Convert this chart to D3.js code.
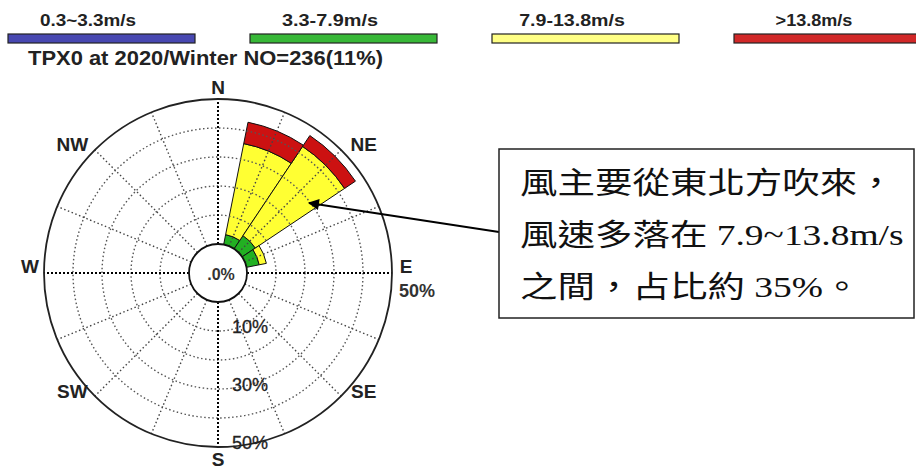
<!DOCTYPE html>
<html>
<head>
<meta charset="utf-8">
<script src="https://cdn.jsdelivr.net/npm/d3@7"></script>
<style>
  body { margin: 0; background: #fff; }
  text { font-family: "Liberation Sans", Arial, sans-serif; }
</style>
</head>
<body>
<svg width="916" height="474"></svg>
<script>
"use strict";
// data: percent of observations per direction and speed class
let directions = ["N", "NNE", "NE", "ENE", "E", "ESE", "SE", "SSE", "S", "SSW", "SW", "WSW", "W", "WNW", "NW", "NNW"];
let speedClasses = ["0.3~3.3m/s", "3.3-7.9m/s", "7.9-13.8m/s", ">13.8m/s"];
let classColors = ["#3434a8", "#22b022", "#ffff33", "#cc1111"];
let calmWind = [0, 0, 0, 0, 0, 0, 0, 0, 0, 0, 0, 0, 0, 0, 0, 0];
let moderateWind = [0, 3.5, 5.5, 4.5, 0, 0, 0, 0, 0, 0, 0, 0, 0, 0, 0, 0];
let strongWind = [0, 32, 37, 2.5, 0, 0, 0, 0, 0, 0, 0, 0, 0, 0, 0, 0];
let galeWind = [0, 7.5, 4.5, 0, 0, 0, 0, 0, 0, 0, 0, 0, 0, 0, 0, 0];
let ringTicks = [10, 20, 30, 40];
let ringLabels = [10, 30, 50];
let maxPct = 50;
let compass = ["N", "NE", "E", "SE", "S", "SW", "W", "NW"];
let title = "TPX0 at 2020/Winter NO=236(11%)";
let noteLines = ["風主要從東北方吹來，", "風速多落在 7.9~13.8m/s", "之間，占比約 35%。"];

let svg = d3.select("svg"),
    cx = 218,
    cy = 273;

let r = d3.scaleLinear().domain([0, maxPct]).range([29, 174]);
let ang = d3.scaleBand().domain(directions).range([0, 2 * Math.PI]);
let half = ang.bandwidth() / 2;
let angleOf = d => directions.indexOf(d) * ang.bandwidth();

// legend
let legendX = d3.scaleBand().domain(speedClasses).range([8, 976]);
let legend = svg.append("g").selectAll("g")
    .data(speedClasses)
    .join("g");
legend.append("rect")
    .attr("x", d => legendX(d))
    .attr("y", 34)
    .attr("width", 187)
    .attr("height", 9)
    .attr("fill", (d, i) => classColors[i])
    .attr("fill-opacity", (d, i) => i == 2 ? 0.6 : 0.9)
    .attr("stroke", "#222")
    .attr("stroke-width", 1.2);
legend.append("text")
    .attr("x", d => legendX(d) + 80)
    .attr("y", 26)
    .attr("text-anchor", "middle")
    .attr("font-size", 16)
    .attr("font-weight", "bold")
    .attr("fill", "#222")
    .attr("textLength", d => d.length * 9.6)
    .attr("lengthAdjust", "spacingAndGlyphs")
    .text(d => d);

svg.append("text")
    .attr("x", 28)
    .attr("y", 65)
    .attr("font-size", 20)
    .attr("font-weight", "bold")
    .attr("fill", "#222")
    .attr("textLength", 355)
    .attr("lengthAdjust", "spacingAndGlyphs")
    .text(title);

let g = svg.append("g").attr("transform", "translate(" + cx + "," + cy + ")");

// stacked wedges
let rows = directions.map((d, i) => ({
    dir: d, c0: calmWind[i], c1: moderateWind[i], c2: strongWind[i], c3: galeWind[i]
}));
let stack = d3.stack().keys(["c0", "c1", "c2", "c3"]);
let series = stack(rows);

let arc = d3.arc()
    .innerRadius(d => r(d[0]))
    .outerRadius(d => r(d[1]))
    .startAngle(d => angleOf(d.data.dir) - half)
    .endAngle(d => angleOf(d.data.dir) + half);

g.selectAll("g.layer")
    .data(series)
    .join("g")
    .attr("class", "layer")
    .attr("fill", (s, i) => classColors[i])
    .selectAll("path")
    .data(s => s.filter(d => d[1] - d[0] > 0))
    .join("path")
    .attr("d", arc)
    .attr("stroke", "#111")
    .attr("stroke-width", 1);

// grid rings
g.selectAll("circle.ring")
    .data(ringTicks)
    .join("circle")
    .attr("class", "ring")
    .attr("r", d => r(d))
    .attr("fill", "none")
    .attr("stroke", "#555")
    .attr("stroke-width", 1.4)
    .attr("stroke-dasharray", "1.5,2.5");

// spokes
g.selectAll("line.spoke")
    .data(directions)
    .join("line")
    .attr("class", "spoke")
    .attr("x1", d => r(0) * Math.sin(angleOf(d)))
    .attr("y1", d => -r(0) * Math.cos(angleOf(d)))
    .attr("x2", d => r(maxPct) * Math.sin(angleOf(d)))
    .attr("y2", d => -r(maxPct) * Math.cos(angleOf(d)))
    .attr("stroke", (d, i) => i % 4 == 0 ? "#000" : "#444")
    .attr("stroke-width", (d, i) => i % 4 == 0 ? 2 : 1.4)
    .attr("stroke-dasharray", (d, i) => i % 4 == 0 ? "2,2" : "1.5,2.5");

// outer circle
g.append("circle")
    .attr("r", r(maxPct))
    .attr("fill", "none")
    .attr("stroke", "#222")
    .attr("stroke-width", 1.8);

// centre circle
g.append("circle")
    .attr("r", r(0))
    .attr("fill", "#fff")
    .attr("stroke", "#111")
    .attr("stroke-width", 1.8);
g.append("text")
    .attr("x", 3)
    .attr("y", 1)
    .attr("text-anchor", "middle")
    .attr("dominant-baseline", "central")
    .attr("font-size", 16)
    .attr("font-weight", "bold")
    .attr("fill", "#333")
    .text(".0%");

// ring labels
g.selectAll("text.ringlab")
    .data(ringLabels)
    .join("text")
    .attr("class", "ringlab")
    .attr("x", 14)
    .attr("y", d => r(d) - 4)
    .attr("dominant-baseline", "central")
    .attr("font-size", 18)
    .attr("fill", "#222")
    .attr("stroke", "#222")
    .attr("stroke-width", 0.3)
    .text(d => d + "%");

// compass labels
g.selectAll("text.dir")
    .data(compass)
    .join("text")
    .attr("class", "dir")
    .attr("x", (d, i) => (i % 2 ? 206 : 188) * Math.sin(angleOf(d)))
    .attr("y", (d, i) => -(i % 2 ? 174 : 186) * Math.cos(angleOf(d)) - (i % 2 ? 5 : (i % 4 == 2 ? 7 : 0)))
    .attr("text-anchor", "middle")
    .attr("dominant-baseline", "central")
    .attr("font-size", 19)
    .attr("font-weight", "bold")
    .attr("fill", "#222")
    .text(d => d);
g.append("text")
    .attr("x", 199)
    .attr("y", 18)
    .attr("text-anchor", "middle")
    .attr("dominant-baseline", "central")
    .attr("font-size", 18)
    .attr("font-weight", "bold")
    .attr("fill", "#333")
    .text(maxPct + "%");

// annotation
svg.append("defs").append("marker")
    .attr("id", "arrow")
    .attr("viewBox", "0 0 10 10")
    .attr("refX", 9)
    .attr("refY", 5)
    .attr("markerWidth", 12)
    .attr("markerHeight", 11)
    .attr("markerUnits", "userSpaceOnUse")
    .attr("orient", "auto")
    .append("path")
    .attr("d", "M0,0 L10,5 L0,10 z")
    .attr("fill", "#000");

svg.append("line")
    .attr("x1", 499).attr("y1", 232)
    .attr("x2", 309).attr("y2", 203)
    .attr("stroke", "#000")
    .attr("stroke-width", 2)
    .attr("marker-end", "url(#arrow)");

svg.append("rect")
    .attr("x", 499).attr("y", 149)
    .attr("width", 415).attr("height", 169)
    .attr("fill", "#fff")
    .attr("stroke", "#222")
    .attr("stroke-width", 1.5);

svg.append("g")
    .selectAll("text")
    .data(noteLines)
    .join("text")
    .attr("transform", (d, i) => "translate(520," + (193 + i * 52) + ") scale(1.25,1)")
    .attr("font-size", 30)
    .attr("fill", "#111")
    .style("font-family", "'Liberation Serif', 'Noto Sans CJK TC', serif")
    .text(d => d);
</script>
</body>
</html>
